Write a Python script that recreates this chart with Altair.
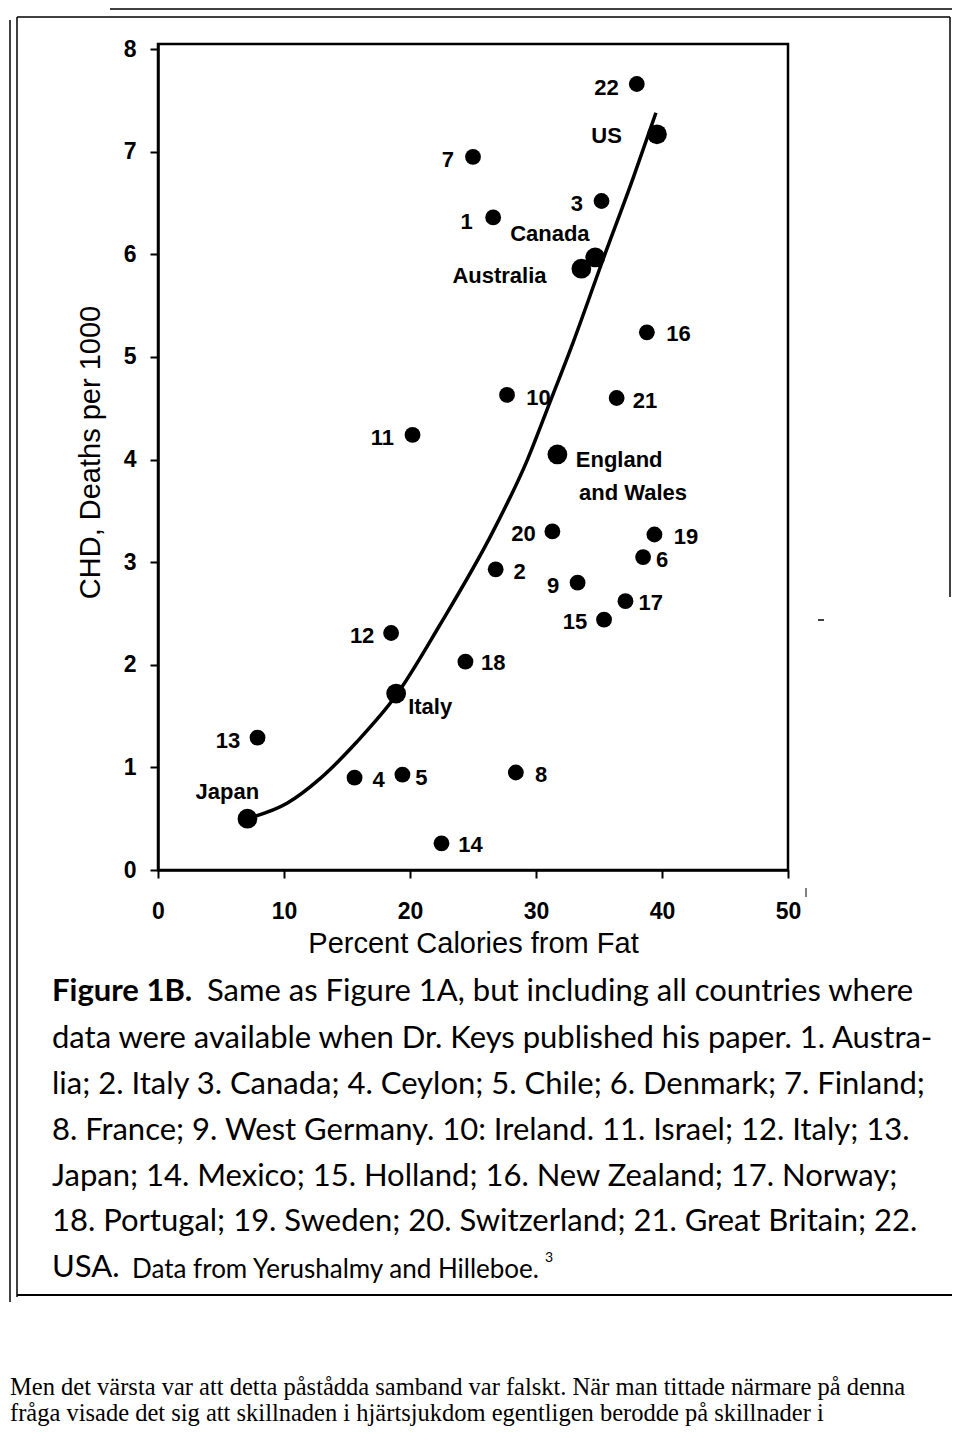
import altair as alt
import pandas as pd

# ---------------- data ----------------
point_names = ["22", "US", "7", "3", "1", "Canada", "Australia", "16", "10", "21",
               "England and Wales", "20", "19", "6", "2", "9", "17", "15", "18",
               "11", "12", "Italy", "13", "Japan", "4", "5", "14", "8"]
point_fat = [38.0, 39.6, 25.0, 35.2, 26.6, 34.7, 33.6, 38.8, 27.7, 36.4,
             31.7, 31.3, 39.4, 38.5, 26.8, 33.3, 37.1, 35.4, 24.4,
             20.2, 18.5, 18.9, 7.9, 7.1, 15.6, 19.4, 22.5, 28.4]
point_chd = [7.66, 7.17, 6.95, 6.52, 6.36, 5.97, 5.86, 5.24, 4.63, 4.60,
             4.05, 3.30, 3.27, 3.05, 2.93, 2.80, 2.62, 2.44, 2.03,
             4.24, 2.31, 1.72, 1.29, 0.50, 0.90, 0.93, 0.26, 0.95]
point_kind = ["all", "keys", "all", "all", "all", "keys", "keys", "all", "all", "all",
              "keys", "all", "all", "all", "all", "all", "all", "all", "all",
              "all", "all", "keys", "all", "keys", "all", "all", "all", "all"]

label_text = ["22", "US", "7", "3", "1", "Canada", "Australia", "16", "10", "21",
              "England", "and Wales", "20", "19", "6", "2", "9", "17", "15", "18",
              "11", "12", "Italy", "13", "Japan", "4", "5", "14", "8"]
label_fat = [35.6, 35.6, 23.0, 33.25, 24.5, 31.1, 27.1, 41.3, 30.2, 38.65,
             36.6, 37.7, 29.0, 41.9, 40.0, 28.7, 31.35, 39.1, 33.1, 26.6,
             17.8, 16.2, 21.6, 5.55, 5.5, 17.5, 20.9, 24.8, 30.4]
label_chd = [7.62, 7.15, 6.92, 6.49, 6.32, 6.20, 5.79, 5.22, 4.60, 4.57,
             4.00, 3.67, 3.27, 3.25, 3.02, 2.90, 2.77, 2.60, 2.42, 2.02,
             4.21, 2.28, 1.59, 1.26, 0.76, 0.88, 0.90, 0.24, 0.93]

curve_fat = [7.06, 10.24, 12.86, 15.79, 18.89, 22.38, 26.59, 29.29, 31.11, 32.94, 35.32, 37.70, 39.52]
curve_chd = [0.50, 0.65, 0.89, 1.25, 1.70, 2.39, 3.30, 3.99, 4.56, 5.14, 5.95, 6.74, 7.38]

x_ticks = [0, 10, 20, 30, 40, 50]
y_ticks = [0, 1, 2, 3, 4, 5, 6, 7, 8]

caption_lead = "Figure 1B."
caption_lines = [
    "Same as Figure 1A, but including all countries where",
    "data were available when Dr. Keys published his paper. 1. Austra-",
    "lia; 2. Italy 3. Canada; 4. Ceylon; 5. Chile; 6. Denmark; 7. Finland;",
    "8. France; 9. West Germany. 10: Ireland. 11. Israel; 12. Italy; 13.",
    "Japan; 14. Mexico; 15. Holland; 16. New Zealand; 17. Norway;",
    "18. Portugal; 19. Sweden; 20. Switzerland; 21. Great Britain; 22.",
    "USA.",
]
caption_tail = "Data from Yerushalmy and Hilleboe."
caption_sup = "3"

body_lines = [
    "Men det värsta var att detta påstådda samband var falskt. När man tittade närmare på denna",
    "fråga visade det sig att skillnaden i hjärtsjukdom egentligen berodde på skillnader i",
]

# ---------------- layout ----------------
LEFT, TOP = 158, 44          # page position of plot origin
W, H = 630, 826


def px(x):
    return x - LEFT


def py(y):
    return y - TOP


pts_df = pd.DataFrame({"name": point_names, "fat": point_fat, "chd": point_chd, "kind": point_kind})
lab_df = pd.DataFrame({"text": label_text, "fat": label_fat, "chd": label_chd})
cur_df = pd.DataFrame({"fat": curve_fat, "chd": curve_chd})
one = alt.Data(values=[{"a": 0}])

xs = alt.Scale(domain=[0, 50], nice=False, zero=False)
ys = alt.Scale(domain=[0, 8.05], nice=False, zero=False)

x_axis = alt.Axis(values=x_ticks, title="Percent Calories from Fat", grid=False,
                  domainColor="black", domainWidth=2.5, tickColor="black", tickWidth=2,
                  tickSize=8, labelFont="Liberation Sans", labelFontSize=23,
                  labelFontWeight="bold", labelColor="black", labelPadding=22,
                  labelFlush=False, titleFont="Liberation Sans", titleFontSize=29,
                  titleFontWeight="normal", titleColor="black", titleBaseline="middle",
                  titleY=73)
y_axis = alt.Axis(values=y_ticks, title="CHD, Deaths per 1000", grid=False,
                  domainColor="black", domainWidth=2.5, tickColor="black", tickWidth=2,
                  tickSize=8, labelFont="Liberation Sans", labelFontSize=23,
                  labelFontWeight="bold", labelColor="black", labelPadding=14,
                  labelFlush=False, titleFont="Liberation Sans", titleFontSize=29,
                  titleFontWeight="normal", titleColor="black", titleAngle=270,
                  titleAlign="center", titleBaseline="middle", titleX=-68, titleY=408)

x_enc = alt.X("fat:Q", scale=xs, axis=x_axis)
y_enc = alt.Y("chd:Q", scale=ys, axis=y_axis)

curve = alt.Chart(cur_df).mark_line(color="black", strokeWidth=3.5, interpolate="monotone").encode(
    x=x_enc, y=y_enc)

points = alt.Chart(pts_df).mark_circle(color="black", opacity=1).encode(
    x=x_enc, y=y_enc,
    size=alt.Size("kind:N", scale=alt.Scale(domain=["all", "keys"], range=[250, 390]), legend=None))

labels = alt.Chart(lab_df).mark_text(font="Liberation Sans", fontSize=22, fontWeight="bold",
                                     color="black", align="center", baseline="middle").encode(
    x=x_enc, y=y_enc, text="text:N")

layers = [curve, points, labels]


def hrule(y, x1, x2, w=1.5):
    return alt.Chart(one).mark_rule(color="black", strokeWidth=w).encode(
        x=alt.value(px(x1)), x2=alt.value(px(x2)), y=alt.value(py(y)))


def vrule(x, y1, y2, w=1.5):
    return alt.Chart(one).mark_rule(color="black", strokeWidth=w).encode(
        x=alt.value(px(x)), y=alt.value(py(y1)), y2=alt.value(py(y2)))


# figure frame and small scan marks
layers += [
    hrule(9, 110, 952, 1.5),
    hrule(17, 17, 950, 1.5),
    vrule(10, 20, 1302, 1.5),
    vrule(17, 17, 1297, 1.5),
    vrule(950, 17, 597, 1.5),
    hrule(1295, 17, 952, 1.8),
    vrule(806, 888, 897, 1),
    hrule(620, 818, 824, 1.5),
]


def text_at(s, x, y, size, weight="normal", font="Lato", baseline="middle"):
    return alt.Chart(one).mark_text(text=s, font=font, fontSize=size, fontWeight=weight,
                                    color="black", align="left", baseline=baseline).encode(
        x=alt.value(px(x)), y=alt.value(py(y)))


CAP_FONT = "Lato"
cap_y = [992, 1039, 1085, 1131, 1177, 1222, 1268]
layers.append(text_at(caption_lead, 52, cap_y[0], 31, "bold", CAP_FONT))
layers.append(text_at(caption_lines[0], 207, cap_y[0], 31, "normal", CAP_FONT))
for line, yy in zip(caption_lines[1:], cap_y[1:]):
    layers.append(text_at(line, 52, yy, 31, "normal", CAP_FONT))
layers.append(text_at(caption_tail, 132, cap_y[6] + 2, 26, "normal", CAP_FONT))
layers.append(text_at(caption_sup, 545, cap_y[6] - 10, 14, "normal", CAP_FONT))

body_y = [1388, 1414]
for line, yy in zip(body_lines, body_y):
    layers.append(text_at(line, 10, yy, 24.5, "normal", "Liberation Serif"))

chart = alt.layer(*layers).properties(
    width=W, height=H,
    autosize=alt.AutoSizeParams(type="none"),
    padding={"left": LEFT - 8, "top": TOP - 8, "right": 944 - (LEFT - 8) - W, "bottom": 558},
    background="white",
).configure_view(stroke="black", strokeWidth=2.5)

chart.save("out.html", embed_options={"renderer": "svg", "actions": False})
